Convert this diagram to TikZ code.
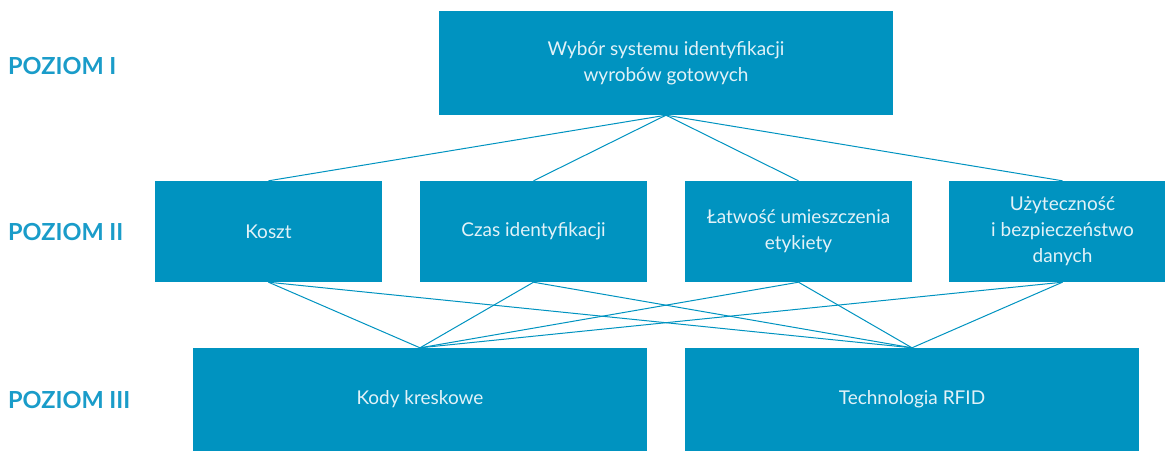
\documentclass[tikz,border=0pt]{standalone}
\usepackage{fontspec}
\setmainfont{Lato}
\definecolor{boxblue}{HTML}{0093C0}
\definecolor{levelblue}{HTML}{1A9CC9}
\definecolor{boxtext}{HTML}{E2F2F8}

\begin{document}
\begin{tikzpicture}[x=1pt,y=-1pt,
  crit/.style={fill=boxblue, draw=none, inner sep=0pt, text=boxtext,
    align=center, font=\fontsize{19}{26}\selectfont},
  level/.style={anchor=base west, text=levelblue, inner sep=0pt,
    font=\fontsize{23.5}{26}\selectfont\bfseries},
  link/.style={draw=boxblue, line width=1pt}]
\useasboundingbox (0,0) rectangle (1165,451);

% Poziom I
\node[crit, minimum width=454pt, minimum height=104pt] (goal) at (666,63)
  {Wybór systemu identyfikacji\\wyrobów gotowych};

% Poziom II
\node[crit, minimum width=227pt, minimum height=101pt] (koszt) at (268.5,231.5) {Koszt};
\node[crit, minimum width=227pt, minimum height=101pt] (czas) at (533.5,231.5) {Czas identyfikacji};
\node[crit, minimum width=227pt, minimum height=101pt] (latw) at (798.5,231.5) {Łatwość umieszczenia\\etykiety};
\node[crit, minimum width=227pt, minimum height=101pt] (uzyt) at (1062.5,231.5) {Użyteczność\\i bezpieczeństwo\\danych};

% Poziom III
\node[crit, minimum width=454pt, minimum height=103pt] (kody) at (420,399.5) {Kody kreskowe};
\node[crit, minimum width=454pt, minimum height=103pt] (rfid) at (912,399.5) {Technologia RFID};

% polaczenia
\foreach \k in {koszt,czas,latw,uzyt} {
  \draw[link] (goal.south) -- (\k.north);
  \draw[link] (\k.south) -- (kody.north);
  \draw[link] (\k.south) -- (rfid.north);
}

% opisy poziomow
\node[level] (p1) at (8,74) {POZIOM I};
\node[level] (p2) at (8,240) {POZIOM II};
\node[level] (p3) at (8,408) {POZIOM III};
\end{tikzpicture}
\end{document}
